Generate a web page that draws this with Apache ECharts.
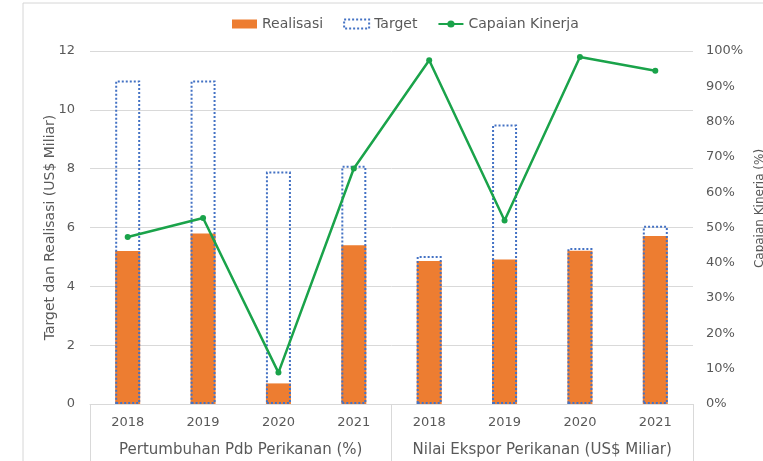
<!DOCTYPE html>
<html>
<head>
<meta charset="utf-8">
<script src="https://cdn.jsdelivr.net/npm/echarts@6/dist/echarts.min.js"></script>
<style>
  html, body { margin: 0; padding: 0; background: #fff; }
</style>
</head>
<body>
<div id="main" style="width: 763px;height: 461px;"></div>
<script>
// data
var groups = ['Pertumbuhan Pdb Perikanan (%)', 'Nilai Ekspor Perikanan (US$ Miliar)']
var years = ['2018', '2019', '2020', '2021', '2018', '2019', '2020', '2021']
var realisasi = [5.2, 5.8, 0.7, 5.4, 4.86, 4.91, 5.21, 5.71]
var target = [11.0, 11.0, 7.9, 8.1, 5.03, 9.5, 5.3, 6.06]
var capaian = [47.3, 52.7, 8.9, 66.7, 97.4, 52.0, 98.3, 94.4]

var font = 'DejaVu Sans'
var textColor = '#595959'
var gridColor = '#d9d9d9'

var mainEcharts = echarts.init(document.getElementById('main'))

var option = {
  textStyle: {fontFamily: font},
  legend: {
    top: 12,
    left: 227,
    itemWidth: 25,
    itemHeight: 9,
    itemGap: 20,
    textStyle: {color: textColor, fontSize: 14, fontFamily: font},
    data: [
      {name: 'Realisasi', icon: 'rect'},
      {name: 'Target', icon: 'rect', itemStyle: {borderType: [2, 2], borderWidth: 2}},
      {name: 'Capaian Kinerja'}
    ]
  },
  grid: {
    left: 90,
    right: 70,
    top: 51,
    bottom: 57,
    outerBoundsMode: 'none'
  },
  graphic: [
    {type: 'line', shape: {x1: 23, y1: 3, x2: 23, y2: 461}, style: {stroke: '#d6d6d6', lineWidth: 1}},
    {type: 'line', shape: {x1: 23, y1: 3, x2: 763, y2: 3}, style: {stroke: '#d6d6d6', lineWidth: 1}}
  ],
  xAxis: [
    {
      type: 'category',
      data: years,
      axisLine: {lineStyle: {color: gridColor}},
      axisTick: {show: false},
      axisLabel: {color: textColor, fontSize: 13, margin: 12, interval: 0}
    },
    {
      type: 'category',
      data: groups,
      position: 'bottom',
      axisLine: {show: false},
      axisTick: {show: true, interval: 0, length: 57, lineStyle: {color: gridColor}},
      axisLabel: {color: textColor, fontSize: 15, margin: 39, interval: 0, hideOverlap: false}
    }
  ],
  yAxis: [
    {
      type: 'value',
      min: 0,
      max: 12,
      interval: 2,
      name: 'Target dan Realisasi (US$ Miliar)',
      nameLocation: 'middle',
      nameGap: 33,
      nameMoveOverlap: false,
      nameTextStyle: {color: textColor, fontSize: 14},
      axisLine: {show: false},
      axisTick: {show: false},
      axisLabel: {color: textColor, fontSize: 13, margin: 15},
      splitLine: {lineStyle: {color: gridColor}}
    },
    {
      type: 'value',
      min: 0,
      max: 100,
      interval: 10,
      position: 'right',
      name: 'Capaian Kinerja (%)',
      nameLocation: 'middle',
      nameGap: 57,
      nameTextStyle: {color: textColor, fontSize: 12, padding: [0, 0, 0, 38]},
      axisLine: {show: false},
      axisTick: {show: false},
      axisLabel: {color: textColor, fontSize: 13, margin: 13, formatter: '{value}%'},
      splitLine: {show: false}
    }
  ],
  series: [
    {
      name: 'Realisasi',
      type: 'bar',
      barWidth: 25,
      itemStyle: {color: '#ED7D31'},
      data: realisasi
    },
    {
      name: 'Target',
      type: 'bar',
      barWidth: 25,
      barGap: '-100%',
      z: 3,
      itemStyle: {
        color: 'rgba(0,0,0,0)',
        borderColor: '#4472C4',
        borderWidth: 2,
        borderType: [2, 2]
      },
      data: target
    },
    {
      name: 'Capaian Kinerja',
      type: 'line',
      yAxisIndex: 1,
      z: 5,
      symbol: 'circle',
      symbolSize: 6,
      lineStyle: {color: '#1AA34A', width: 2.5},
      itemStyle: {color: '#1AA34A'},
      data: capaian
    }
  ]
}

mainEcharts.setOption(option)
</script>
</body>
</html>
